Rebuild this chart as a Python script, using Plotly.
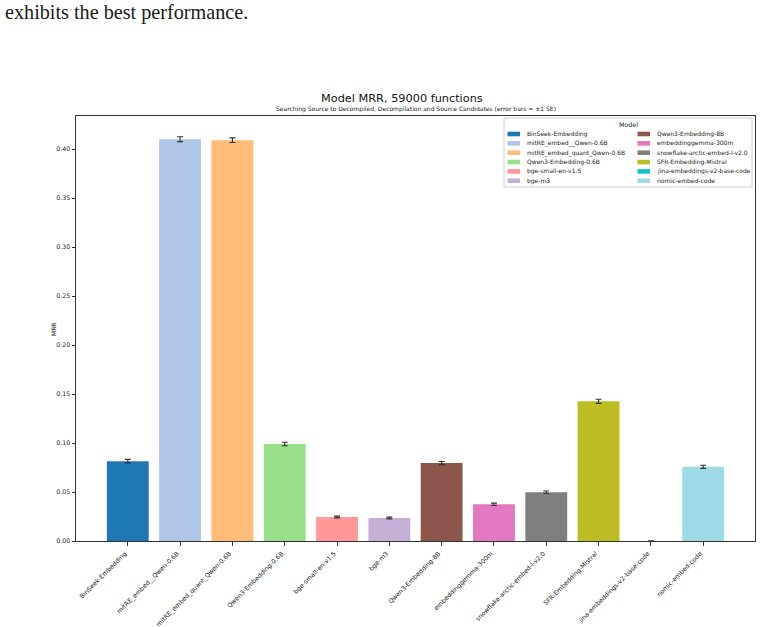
import plotly.graph_objects as go

models = [
    "BinSeek-Embedding", "mitRE_embed__Qwen-0.6B", "mitRE_embed_quant_Qwen-0.6B",
    "Qwen3-Embedding-0.6B", "bge-small-en-v1.5", "bge-m3", "Qwen3-Embedding-8B",
    "embeddinggemma-300m", "snowflake-arctic-embed-l-v2.0", "SFR-Embedding-Mistral",
    "jina-embeddings-v2-base-code", "nomic-embed-code",
]
mrr = [0.0815, 0.410, 0.409, 0.099, 0.0245, 0.0235, 0.0795, 0.0375, 0.0497, 0.1425, 0.0, 0.0757]
se = [0.0018, 0.0025, 0.0024, 0.0018, 0.0009, 0.0009, 0.0016, 0.0012, 0.0013, 0.0021, 0.0002, 0.0016]
colors = ["#1f77b4", "#aec7e8", "#ffbb78", "#98df8a", "#ff9896", "#c5b0d5",
          "#8c564b", "#e377c2", "#7f7f7f", "#bcbd22", "#17becf", "#9edae5"]
yticks = [0.00, 0.05, 0.10, 0.15, 0.20, 0.25, 0.30, 0.35, 0.40]

W, H = 762, 627
L, R, T, B = 76, 755, 116, 541  # plot area in pixels


def px(x):
    return (x - L) / (R - L)


def py(y):
    return (B - y) / (B - T)


FONT = "DejaVu Sans"

fig = go.Figure()
fig.add_trace(go.Bar(
    x=models, y=mrr, width=0.8,
    marker=dict(color=colors, line=dict(width=0)),
    error_y=dict(type="data", array=se, visible=True, color="#333333",
                 thickness=1.1, width=3),
    showlegend=False,
))

annotations = [
    dict(text="exhibits the best performance.", x=px(3), y=py(12), xref="paper", yref="paper",
         xanchor="left", yanchor="middle", showarrow=False,
         font=dict(family="Liberation Serif", size=20.2, color="#1a1a1a")),
    dict(text="Model MRR, 59000 functions", x=px(401.5), y=py(98.5), xref="paper", yref="paper",
         xanchor="center", yanchor="middle", showarrow=False,
         font=dict(family=FONT, size=11.3, color="#111")),
    dict(text="Searching Source to Decompiled, Decompilation and Source Candidates (error bars = ±1 SE)",
         x=px(416), y=py(109.5), xref="paper", yref="paper",
         xanchor="center", yanchor="middle", showarrow=False,
         font=dict(family=FONT, size=6, color="#222")),
    dict(text="MRR", x=px(53), y=py(329), xref="paper", yref="paper", textangle=-90,
         xanchor="center", yanchor="middle", showarrow=False,
         font=dict(family=FONT, size=6, color="#222")),
    dict(text="Model", x=px(628), y=py(124.5), xref="paper", yref="paper",
         xanchor="center", yanchor="middle", showarrow=False,
         font=dict(family=FONT, size=6.3, color="#222")),
]

shapes = [
    dict(type="rect", xref="paper", yref="paper", x0=px(504), x1=px(752), y0=py(118), y1=py(187),
         fillcolor="rgba(255,255,255,0.85)", line=dict(color="#d0d0d0", width=1), layer="above"),
]

row0, dy = 134.0, 9.35
for i, (m, c) in enumerate(zip(models, colors)):
    col, row = divmod(i, 6)
    yc = row0 + row * dy
    x0 = 507.5 if col == 0 else 637.5
    tx = 525 if col == 0 else 654.5
    shapes.append(dict(type="rect", xref="paper", yref="paper", x0=px(x0), x1=px(x0 + 12.5),
                       y0=py(yc + 2.3), y1=py(yc - 2.3), fillcolor=c, line=dict(width=0),
                       layer="above"))
    annotations.append(dict(text=m, x=px(tx), y=py(yc), xref="paper", yref="paper",
                            xanchor="left", yanchor="middle", showarrow=False,
                            font=dict(family=FONT, size=6, color="#222")))

fig.update_layout(
    width=W, height=H,
    margin=dict(l=L, r=W - R, t=T, b=H - B, pad=0),
    paper_bgcolor="white", plot_bgcolor="white",
    font=dict(family=FONT, size=6.3, color="#222"),
    annotations=annotations, shapes=shapes,
    showlegend=False,
)
fig.update_xaxes(
    type="category", range=[-0.99, 11.99], tickangle=-45,
    showline=True, mirror=True, linecolor="#333", linewidth=1,
    ticks="outside", ticklen=3.5, tickwidth=0.8, tickcolor="#333",
    showgrid=False, zeroline=False, automargin=False,
    ticklabelshift=-3, ticklabelstandoff=2,
    tickfont=dict(family=FONT, size=6.3, color="#222"),
)
fig.update_yaxes(
    range=[0, 0.4337], tickvals=yticks, tickformat=".2f",
    showline=True, mirror=True, linecolor="#333", linewidth=1,
    ticks="outside", ticklen=3.5, tickwidth=0.8, tickcolor="#333",
    showgrid=False, zeroline=False, automargin=False,
    tickfont=dict(family=FONT, size=6.3, color="#222"),
)

fig.write_html("out.html")
